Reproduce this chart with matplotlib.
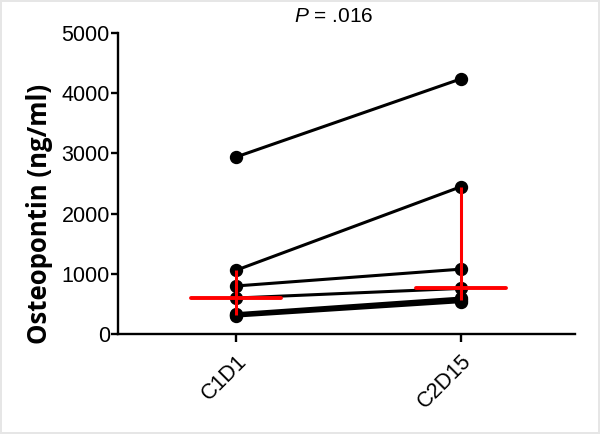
import matplotlib
matplotlib.use("Agg")
import matplotlib.pyplot as plt
import numpy as np

plt.rcParams["mathtext.fontset"] = "custom"
plt.rcParams["mathtext.it"] = "Liberation Sans:italic"
plt.rcParams["mathtext.rm"] = "Liberation Sans"

categories = ["C1D1", "C2D15"]
c1d1 = [2940, 1060, 800, 600, 340, 320, 300]
c2d15 = [4240, 2450, 1080, 760, 600, 560, 540]
medians = [600, 760]
q1 = [320, 560]
q3 = [1060, 2450]
yticks = [0, 1000, 2000, 3000, 4000, 5000]
p_text = ".016"

fig = plt.figure(figsize=(6.0, 4.34), dpi=100)
fig.patch.set_edgecolor("#e6e6e6")
fig.patch.set_linewidth(1.5)
ax = fig.add_axes([0.197, 0.230, 0.761, 0.694])

x = np.arange(len(categories))
for a, b in zip(c1d1, c2d15):
    ax.plot(x, [a, b], color="black", lw=2.2, marker="o", ms=8.6,
            markerfacecolor="black", markeredgecolor="black", zorder=2,
            solid_capstyle="butt", clip_on=False)

for i in range(len(categories)):
    ax.plot([x[i], x[i]], [q1[i], q3[i]], color="#ff0000", lw=2.2, zorder=3,
            solid_capstyle="butt")
    ax.plot([x[i] - 0.2, x[i] + 0.2], [medians[i], medians[i]], color="#ff0000",
            lw=2.8, zorder=3, solid_capstyle="round")

ax.set_xlim(-0.522, 1.504)
ax.set_ylim(0, 5000)
ax.set_yticks(yticks)
ax.set_yticklabels([str(v) for v in yticks], fontfamily="Liberation Sans", fontsize=15.5)
ax.set_xticks(x)
ax.set_xticklabels(categories, rotation=45, ha="right", rotation_mode="anchor",
                   fontfamily="Liberation Sans", fontsize=15.5)
ax.tick_params(axis="y", length=5, width=1.7, pad=1)
ax.tick_params(axis="x", length=6, width=1.7, pad=6)

for s in ["top", "right"]:
    ax.spines[s].set_visible(False)
for s in ["left", "bottom"]:
    ax.spines[s].set_linewidth(1.7)

ax.set_ylabel("Osteopontin (ng/ml)", fontfamily="Open Sans", fontweight="bold",
              fontsize=18.5, va="center")
ax.yaxis.set_label_coords(-0.172, 0.40)

ax.text(0.434, 5120, "$\\it{P}$ = " + p_text, ha="center", va="bottom",
        fontfamily="Liberation Sans", fontsize=15, clip_on=False)

fig.savefig("out.png", dpi=100)
